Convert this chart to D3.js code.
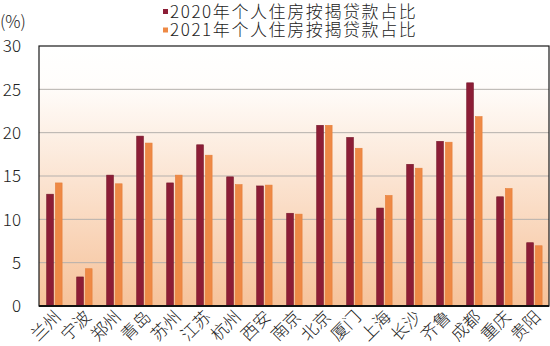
<!DOCTYPE html>
<html>
<head>
<meta charset="utf-8">
<script src="https://cdn.jsdelivr.net/npm/d3@7/dist/d3.min.js"></script>
<style>
  html, body { margin: 0; padding: 0; background: #fff; }
  svg { display: block; }
  text { font-family: "Noto Sans CJK SC", "Noto Sans", sans-serif; fill: #222; }
</style>
</head>
<body>
<svg id="chart" width="550" height="346"></svg>
<script>
// City categories along the x axis
const cities = ["兰州", "宁波", "郑州", "青岛", "苏州", "江苏", "杭州", "西安", "南京",
                "北京", "厦门", "上海", "长沙", "齐鲁", "成都", "重庆", "贵阳"];
// Share of personal mortgage loans (%)
const share2020 = [12.9, 3.35, 15.1, 19.6, 14.2, 18.6, 14.9, 13.85, 10.7,
                   20.85, 19.45, 11.3, 16.35, 19.0, 25.75, 12.6, 7.3];
const share2021 = [14.2, 4.3, 14.1, 18.8, 15.1, 17.4, 14.0, 13.95, 10.6,
                   20.85, 18.2, 12.75, 15.9, 18.9, 21.85, 13.55, 6.95];
const seriesNames = ["2020年个人住房按揭贷款占比", "2021年个人住房按揭贷款占比"];
const yTicks = [0, 5, 10, 15, 20, 25, 30];

const colors = ["#8c1d36", "#ee8945"];

const svg = d3.select("#chart");
const plot = { left: 39, right: 549, top: 46, bottom: 306 };

const x0 = d3.scaleBand().domain(cities).range([plot.left, plot.right]).padding(0);
const x1 = d3.scaleBand().domain([0, 1]).range([7.7, 23.1]).paddingInner(0.23);
const y = d3.scaleLinear().domain([0, 30]).range([plot.bottom, plot.top]);

// Plot background: white fading to peach at the baseline
const defs = svg.append("defs");
const grad = defs.append("linearGradient").attr("id", "bg")
  .attr("x1", 0).attr("y1", 0).attr("x2", 0).attr("y2", 1);
grad.append("stop").attr("offset", "0%").attr("stop-color", "#ffffff");
grad.append("stop").attr("offset", "15%").attr("stop-color", "#fffdfb");
grad.append("stop").attr("offset", "100%").attr("stop-color", "#f6c29a");

svg.append("rect")
  .attr("x", plot.left).attr("y", plot.top)
  .attr("width", plot.right - plot.left).attr("height", plot.bottom - plot.top)
  .attr("fill", "url(#bg)");

// Horizontal gridlines
svg.append("g")
  .selectAll("line")
  .data(yTicks.filter(d => d > 0 && d < 30))
  .join("line")
  .attr("x1", plot.left).attr("x2", plot.right)
  .attr("y1", d => y(d)).attr("y2", d => y(d))
  .attr("stroke", "#b5b0ad").attr("stroke-width", 1);

// Bars
const groups = svg.append("g")
  .selectAll("g")
  .data(cities.map((c, i) => ({ city: c, values: [share2020[i], share2021[i]] })))
  .join("g")
  .attr("transform", d => `translate(${x0(d.city)},0)`);

groups.selectAll("rect")
  .data(d => d.values.map((v, k) => ({ k, v })))
  .join("rect")
  .attr("x", d => x1(d.k))
  .attr("width", x1.bandwidth())
  .attr("y", d => y(d.v))
  .attr("height", d => y(0) - y(d.v))
  .attr("fill", d => colors[d.k])
  .attr("stroke", d => d.k === 0 ? "#741428" : "#e57f3a")
  .attr("stroke-width", 0.6);

// Frame
svg.append("rect")
  .attr("x", plot.left).attr("y", plot.top)
  .attr("width", plot.right - plot.left).attr("height", plot.bottom - plot.top)
  .attr("fill", "none").attr("stroke", "#1a1a1a").attr("stroke-width", 1.2);
svg.append("line")
  .attr("x1", plot.left).attr("x2", plot.right)
  .attr("y1", plot.bottom).attr("y2", plot.bottom)
  .attr("stroke", "#111").attr("stroke-width", 2);

// Y axis labels
const yAxis = d3.axisLeft(y).tickValues(yTicks).tickSize(0).tickPadding(0);
const yg = svg.append("g").attr("transform", "translate(21,0)").call(yAxis);
yg.select(".domain").remove();
yg.selectAll("text")
  .attr("font-size", 17).attr("font-weight", 300)
  .attr("font-family", "'Noto Sans', 'Open Sans', sans-serif")
  .attr("fill", "#222").attr("dy", "0.35em");

svg.append("text")
  .attr("x", 0).attr("y", 28)
  .attr("font-size", 17).attr("font-weight", 300)
  .text("(%)");

// X axis labels, rotated
const xAxis = d3.axisBottom(x0).tickSize(0).tickPadding(0);
const xg = svg.append("g").attr("transform", `translate(0,${plot.bottom})`).call(xAxis);
xg.select(".domain").remove();
xg.selectAll("text")
  .attr("font-size", 17).attr("font-weight", 300)
  .attr("fill", "#222")
  .attr("text-anchor", "end")
  .attr("dy", null).attr("y", 0)
  .attr("transform", "translate(8,12) rotate(-45)");

// Legend
const legend = svg.append("g");
seriesNames.forEach((name, i) => {
  const ly = 12 + i * 18.5;
  legend.append("rect")
    .attr("x", 163).attr("y", ly - 3).attr("width", 5).attr("height", 5)
    .attr("fill", colors[i]);
  legend.append("text")
    .attr("x", 170).attr("y", ly).attr("dy", "0.35em")
    .attr("font-size", 17).attr("font-weight", 300)
    .attr("letter-spacing", "1.6px")
    .text(name);
});
</script>
</body>
</html>
